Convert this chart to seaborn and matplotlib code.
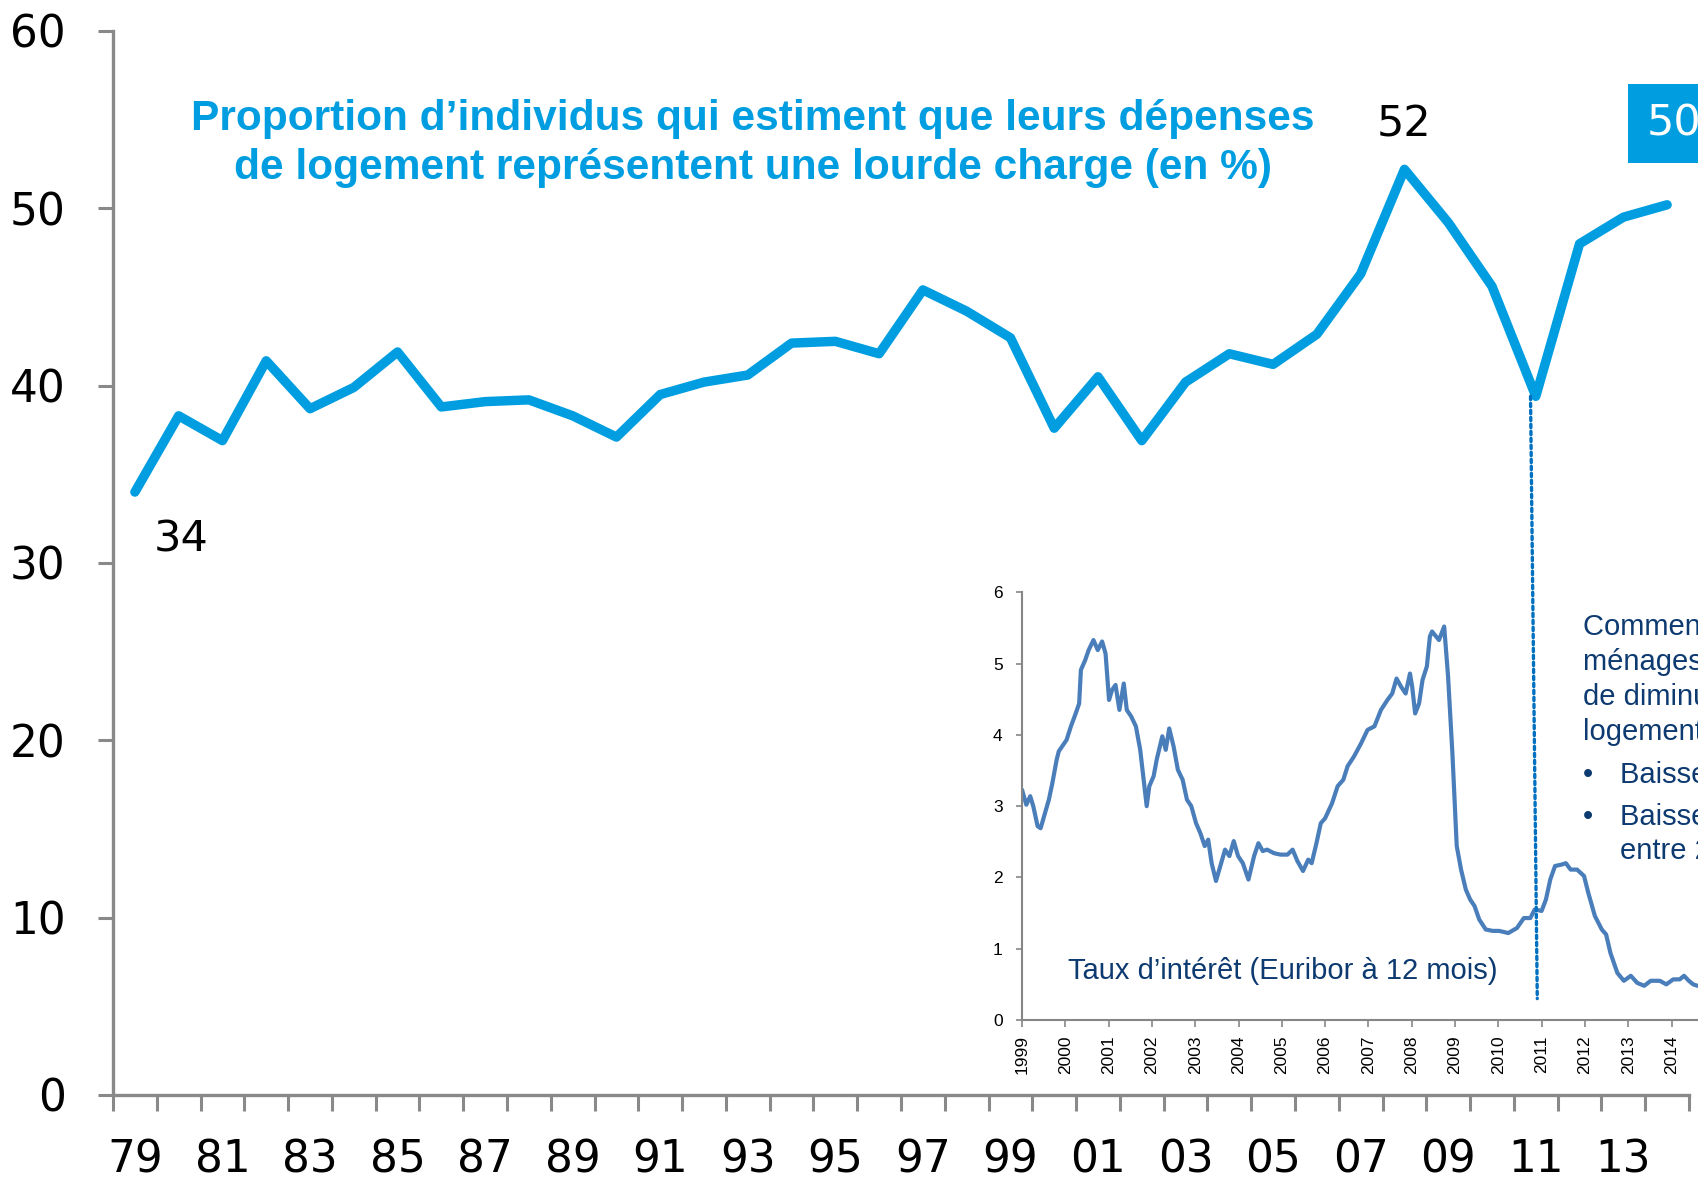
import matplotlib
matplotlib.use("Agg")
import matplotlib.pyplot as plt
import seaborn as sns
import pandas as pd
from matplotlib.patches import ConnectionPatch

# ---------------- data ----------------
years = list(range(1979, 2015))
share = [34.0, 38.3, 36.9, 41.4, 38.7, 39.9, 41.9, 38.8, 39.1, 39.2,
         38.3, 37.1, 39.5, 40.2, 40.6, 42.4, 42.5, 41.8, 45.4, 44.2,
         42.7, 37.6, 40.5, 36.9, 40.2, 41.8, 41.2, 42.9, 46.3, 52.2,
         49.2, 45.6, 39.4, 48.0, 49.5, 50.2]
year_labels = [f"{y % 100:02d}" for y in years]

eur_t = [1999.00, 1999.10, 1999.19, 1999.26, 1999.36, 1999.43, 1999.51, 1999.62, 1999.70, 1999.80,
         1999.85, 1999.93, 2000.03, 2000.13, 2000.24, 2000.32, 2000.36, 2000.46, 2000.54, 2000.65,
         2000.75, 2000.85, 2000.93, 2001.01, 2001.08, 2001.16, 2001.25, 2001.35, 2001.42, 2001.52,
         2001.63, 2001.73, 2001.80, 2001.88, 2001.94, 2002.04, 2002.11, 2002.24, 2002.32, 2002.40,
         2002.50, 2002.60, 2002.71, 2002.81, 2002.91, 2003.02, 2003.12, 2003.22, 2003.30, 2003.38,
         2003.48, 2003.58, 2003.69, 2003.79, 2003.89, 2003.99, 2004.10, 2004.23, 2004.36, 2004.46,
         2004.56, 2004.66, 2004.82, 2004.97, 2005.13, 2005.25, 2005.36, 2005.49, 2005.61, 2005.69,
         2005.80, 2005.90, 2006.00, 2006.16, 2006.29, 2006.42, 2006.52, 2006.67, 2006.83, 2006.98,
         2007.14, 2007.29, 2007.44, 2007.55, 2007.65, 2007.75, 2007.86, 2007.96, 2008.01, 2008.08,
         2008.17, 2008.25, 2008.35, 2008.42, 2008.47, 2008.63, 2008.75, 2008.84, 2008.94, 2009.04,
         2009.14, 2009.25, 2009.35, 2009.45, 2009.56, 2009.71, 2009.87, 2010.02, 2010.23, 2010.43,
         2010.59, 2010.74, 2010.84, 2011.00, 2011.10, 2011.20, 2011.31, 2011.46, 2011.56, 2011.67,
         2011.82, 2011.98, 2012.08, 2012.23, 2012.39, 2012.49, 2012.59, 2012.75, 2012.90, 2013.06,
         2013.21, 2013.37, 2013.52, 2013.73, 2013.88, 2014.04, 2014.19, 2014.29, 2014.40, 2014.50,
         2014.60]
eur_v = [3.23, 3.02, 3.14, 3.00, 2.72, 2.69, 2.86, 3.09, 3.32, 3.65,
         3.77, 3.84, 3.93, 4.12, 4.30, 4.44, 4.91, 5.05, 5.19, 5.33,
         5.19, 5.31, 5.14, 4.49, 4.63, 4.70, 4.35, 4.72, 4.35, 4.26,
         4.12, 3.79, 3.42, 3.00, 3.28, 3.42, 3.65, 3.98, 3.79, 4.09,
         3.84, 3.51, 3.37, 3.09, 3.00, 2.76, 2.62, 2.44, 2.53, 2.20,
         1.95, 2.16, 2.39, 2.30, 2.51, 2.30, 2.20, 1.97, 2.30, 2.48,
         2.37, 2.39, 2.34, 2.32, 2.32, 2.39, 2.23, 2.09, 2.25, 2.20,
         2.48, 2.76, 2.83, 3.04, 3.28, 3.37, 3.56, 3.70, 3.88, 4.07,
         4.12, 4.35, 4.49, 4.58, 4.79, 4.68, 4.58, 4.86, 4.68, 4.30,
         4.44, 4.77, 4.96, 5.38, 5.45, 5.33, 5.52, 4.82, 3.74, 2.44,
         2.11, 1.83, 1.69, 1.60, 1.41, 1.27, 1.25, 1.25, 1.22, 1.29,
         1.43, 1.43, 1.55, 1.53, 1.69, 1.97, 2.16, 2.18, 2.20, 2.11,
         2.11, 2.02, 1.78, 1.46, 1.27, 1.20, 0.94, 0.66, 0.55, 0.62,
         0.52, 0.48, 0.55, 0.55, 0.50, 0.57, 0.57, 0.62, 0.55, 0.50,
         0.48]
inset_years = list(range(1999, 2015))

title_lines = ["Proportion d\u2019individus qui estiment que leurs dépenses",
               "de logement représentent une lourde charge (en %)"]
inset_label = "Taux d\u2019intérêt (Euribor à 12 mois)"
note_lines = ["Comment expliquer que les", "ménages ne perçoivent pas",
              "de diminution de leur charge", "logement ?"]
bullet_lines = ["Baisse des taux d\u2019intérêt", "Baisse des prix de l\u2019immobilier"]
bullet_cont = "entre 2011 et 2014"

# ---------------- style ----------------
sns.set_theme(style="white")
plt.rcParams["font.family"] = ["DejaVu Sans"]
W, H = 1699, 1183
fig = plt.figure(figsize=(W / 100, H / 100), dpi=100)

BLUE = "#009EE0"
NAVY = "#0d3a70"
GREY = "#898989"
ARIAL = ["Liberation Sans", "DejaVu Sans"]

def fx(px):
    return px / W

def fy(py):
    return 1 - py / H

# ---------------- main axes ----------------
ax = fig.add_axes([fx(113), fy(1095), fx(1689) - fx(113), fy(31) - fy(1095)])
df = pd.DataFrame({"idx": range(len(years)), "share": share})
sns.lineplot(data=df, x="idx", y="share", ax=ax, color=BLUE, lw=6.8,
             solid_capstyle="round", solid_joinstyle="round")
ax.set_xlim(-0.5, len(years) - 0.5)
ax.set_ylim(0, 60)
ax.set_xlabel("")
ax.set_ylabel("")
for s in ["top", "right"]:
    ax.spines[s].set_visible(False)
for s in ["left", "bottom"]:
    ax.spines[s].set_color(GREY)
    ax.spines[s].set_linewidth(2.4)
ax.set_yticks(range(0, 61, 10))
ax.tick_params(axis="y", length=11, width=2.2, color=GREY, pad=23,
               labelsize=31.5, labelcolor="black", direction="out", left=True)
ax.set_xticks(range(0, len(years), 2))
ax.set_xticklabels(year_labels[::2])
ax.set_xticks([i - 0.5 for i in range(len(years) + 1)], minor=True)
ax.tick_params(axis="x", which="major", length=0, pad=31, labelsize=31.5, labelcolor="black")
ax.tick_params(axis="x", which="minor", length=11.5, width=2.2, color=GREY,
               direction="out", bottom=True)
ax.patch.set_alpha(0)

# value labels
ax.annotate("34", xy=(0, share[0]), xytext=(33, -34), textcoords="offset points",
            ha="center", va="center", fontsize=31, color="black")
i08 = years.index(2008)
ax.annotate("52", xy=(i08, share[i08]), xytext=(0, 32), textcoords="offset points",
            ha="center", va="center", fontsize=31, color="black")
ax.annotate("50", xy=(len(years) - 1, share[-1]), xytext=(-14.7, 58.5),
            textcoords="offset points", ha="left", va="center", fontsize=31,
            color="white",
            bbox=dict(boxstyle="square,pad=0.43", fc=BLUE, ec="none"))

# title
fig.text(fx(753), fy(130), title_lines[0], ha="center", va="baseline",
         fontsize=30.6, fontweight="bold", color=BLUE, family=ARIAL)
fig.text(fx(753), fy(179), title_lines[1], ha="center", va="baseline",
         fontsize=30.6, fontweight="bold", color=BLUE, family=ARIAL)

# ---------------- inset ----------------
ax2 = fig.add_axes([fx(1022), fy(1020), (2014.65 - 1999) * 43.3 / W, fy(592.3) - fy(1020)])
dfe = pd.DataFrame({"t": eur_t, "v": eur_v})
sns.lineplot(data=dfe, x="t", y="v", ax=ax2, color="#4A7EBB", lw=3.0,
             solid_joinstyle="round")
ax2.set_xlim(1999, 2014.65)
ax2.set_ylim(0, 6)
ax2.set_xlabel("")
ax2.set_ylabel("")
ax2.patch.set_alpha(0)
for s in ["top", "right"]:
    ax2.spines[s].set_visible(False)
for s in ["left", "bottom"]:
    ax2.spines[s].set_color("#868686")
    ax2.spines[s].set_linewidth(1.5)
ax2.set_yticks(range(0, 7))
ax2.set_xticks(inset_years)
ax2.set_xticklabels([str(y) for y in inset_years], rotation=90, family=ARIAL)
for lab in ax2.get_yticklabels():
    lab.set_family(ARIAL)
ax2.tick_params(axis="y", length=4, width=1.2, color="#868686", pad=10,
                labelsize=12.5, labelcolor="black", left=True, direction="out")
ax2.tick_params(axis="x", length=5, width=1.2, color="#868686", pad=6,
                labelsize=12.5, labelcolor="black", bottom=True, direction="out")

fig.text(fx(1068), fy(979), inset_label, ha="left", va="baseline",
         fontsize=21, color=NAVY, family=ARIAL)

# dotted link from the 2011 survey point down into the inset
i11 = years.index(2011)
con = ConnectionPatch(xyA=(i11 - 0.12, share[i11]), coordsA=ax.transData,
                      xyB=(2010.9, 0.3), coordsB=ax2.transData,
                      color="#0070C0", lw=2.4, linestyle=(0, (1, 1.1)))
fig.add_artist(con)

# side note (clipped by the figure edge as in the reference)
for line, base in zip(note_lines, [635, 670, 705, 740]):
    fig.text(fx(1583), fy(base), line, ha="left", va="baseline",
             fontsize=21, color=NAVY, family=ARIAL)
for line, base in zip(bullet_lines, [783, 825]):
    fig.text(fx(1583), fy(base), "\u2022", ha="left", va="baseline",
             fontsize=21, color=NAVY, family=ARIAL)
    fig.text(fx(1620), fy(base), line, ha="left", va="baseline",
             fontsize=21, color=NAVY, family=ARIAL)
fig.text(fx(1620), fy(859), bullet_cont, ha="left", va="baseline",
         fontsize=21, color=NAVY, family=ARIAL)

fig.savefig("out.png", dpi=100, facecolor="white")
